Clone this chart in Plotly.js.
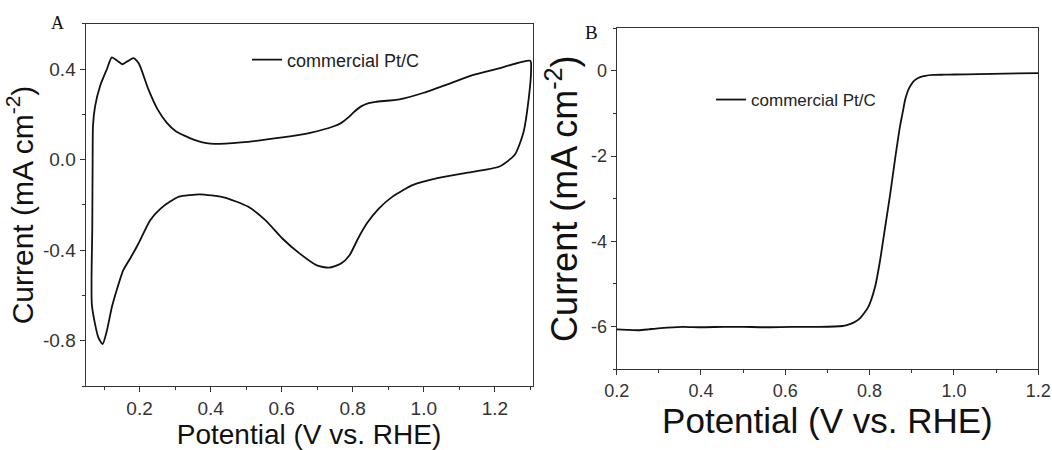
<!DOCTYPE html>
<html><head><meta charset="utf-8">
<script src="https://cdn.plot.ly/plotly-3.0.1.min.js"></script>
<style>html,body{margin:0;padding:0;background:#fff}</style>
</head><body><div id="chart" style="width:1052px;height:450px"></div>
<script>
// Panel A: cyclic voltammogram (closed loop)
const cvPotential = [0.066,0.067,0.068,0.069,0.075,0.089,0.108,0.122,0.137,0.152,0.167,0.183,0.198,0.225,0.25,0.277,0.302,0.352,0.399,0.486,0.602,0.68,0.747,0.768,0.786,0.805,0.825,0.845,0.864,0.932,1.0,1.067,1.135,1.203,1.30,
  1.302,1.295,1.28,1.256,1.213,1.116,1.038,0.97,0.912,0.874,0.84,0.815,0.791,0.767,0.733,0.699,0.651,0.602,0.554,0.505,0.437,0.37,0.342,0.311,0.286,0.26,0.23,0.197,0.176,0.154,0.135,0.122,0.108,0.096,0.084,0.066];
const cvCurrent = [-0.644,-0.3,0.0,0.15,0.237,0.326,0.40,0.452,0.438,0.422,0.436,0.449,0.425,0.311,0.225,0.163,0.126,0.089,0.071,0.077,0.099,0.119,0.148,0.163,0.185,0.213,0.237,0.25,0.256,0.267,0.296,0.333,0.373,0.40,0.437,
  0.40,0.267,0.118,0.022,-0.03,-0.059,-0.081,-0.111,-0.163,-0.215,-0.281,-0.348,-0.422,-0.459,-0.477,-0.467,-0.415,-0.348,-0.267,-0.207,-0.166,-0.153,-0.156,-0.163,-0.185,-0.215,-0.267,-0.37,-0.43,-0.489,-0.58,-0.652,-0.756,-0.815,-0.785,-0.644];

// Panel B: linear sweep voltammogram
const lsvPotential = [0.2,0.225,0.252,0.275,0.293,0.32,0.357,0.4,0.454,0.5,0.55,0.615,0.68,0.736,0.746,0.762,0.777,0.797,0.813,0.825,0.837,0.849,0.86,0.872,0.879,0.884,0.889,0.894,0.9,0.906,0.913,0.92,0.932,0.951,0.977,1.0,1.058,1.12,1.2];
const lsvCurrent = [-6.07,-6.08,-6.09,-6.07,-6.05,-6.03,-6.01,-6.02,-6.01,-6.01,-6.02,-6.01,-6.01,-5.99,-5.97,-5.91,-5.81,-5.54,-5.07,-4.44,-3.66,-2.88,-2.10,-1.31,-0.95,-0.69,-0.52,-0.40,-0.30,-0.23,-0.18,-0.145,-0.115,-0.095,-0.09,-0.085,-0.075,-0.065,-0.05];

const seriesName = 'commercial Pt/C';
const panelLabels = ['A','B'];
const xTitle = 'Potential (V vs. RHE)';
const yTitle = 'Current (mA cm<sup>-2</sup>)';
const cvXTickVals = [0.2,0.4,0.6,0.8,1.0,1.2];
const cvXTickText = ['0.2','0.4','0.6','0.8','1.0','1.2'];
const cvYTickVals = [-0.8,-0.4,0.0,0.4];
const cvYTickText = ['-0.8','-0.4','0.0','0.4'];
const lsvXTickVals = [0.2,0.4,0.6,0.8,1.0,1.2];
const lsvXTickText = ['0.2','0.4','0.6','0.8','1.0','1.2'];
const lsvYTickVals = [-6,-4,-2,0];
const lsvYTickText = ['-6','-4','-2','0'];

const FONT = 'Arial, "Liberation Sans", sans-serif';
const SERIF = '"Times New Roman", "Liberation Serif", serif';
const LINE = '#333';

const traces = [
  {x: cvPotential, y: cvCurrent, xaxis:'x', yaxis:'y', mode:'lines', name: seriesName, showlegend:true,
   line:{color:'#111', width:1.8, shape:'spline', smoothing:0.6}, legend:'legend'},
  {x: lsvPotential, y: lsvCurrent, xaxis:'x2', yaxis:'y2', mode:'lines', name: seriesName, showlegend:true,
   line:{color:'#111', width:1.8, shape:'spline', smoothing:0.6}, legend:'legend2'}
];

function ax(extra){
  return Object.assign({
    showline:true, mirror:true, linecolor:LINE, linewidth:1,
    ticks:'outside', ticklen:5, tickcolor:LINE, tickwidth:1,
    showgrid:false, zeroline:false, tickmode:'array',
    tickfont:{family:FONT, size:19, color:'#333'}
  }, extra);
}

const layout = {
  width:1052, height:450, margin:{l:0,r:0,t:0,b:0}, showlegend:true,
  paper_bgcolor:'#fff', plot_bgcolor:'#fff', font:{family:FONT, color:'#111'},
  xaxis: ax({domain:[0.0813,0.5062], range:[0.048,1.306], anchor:'y',
    tickvals:cvXTickVals, ticktext:cvXTickText,
    minor:{tickmode:'linear', tick0:0, dtick:0.1, ticks:'outside', ticklen:3, tickcolor:LINE},
    title:{text:xTitle, font:{family:FONT, size:28, color:'#111'}, standoff:0}}),
  yaxis: ax({domain:[0.1422,0.9467], range:[-1.0,0.6], anchor:'x',
    tickvals:cvYTickVals, ticktext:cvYTickText,
    minor:{tickmode:'linear', tick0:0, dtick:0.2, ticks:'outside', ticklen:3, tickcolor:LINE},
    title:{text:yTitle, font:{family:FONT, size:30, color:'#111'}, standoff:0}}),
  xaxis2: ax({domain:[0.5862,0.9869], range:[0.2,1.2], anchor:'y2',
    tickvals:lsvXTickVals, ticktext:lsvXTickText, tickfont:{family:FONT, size:18, color:'#333'},
    minor:{tickmode:'linear', tick0:0, dtick:0.1, ticks:'outside', ticklen:3, tickcolor:LINE},
    title:{text:xTitle, font:{family:FONT, size:35, color:'#111'}, standoff:6}}),
  yaxis2: ax({domain:[0.18,0.9371], range:[-7,1], anchor:'x2',
    tickvals:lsvYTickVals, ticktext:lsvYTickText, tickfont:{family:FONT, size:18, color:'#333'},
    minor:{tickmode:'linear', tick0:0, dtick:1, ticks:'outside', ticklen:3, tickcolor:LINE},
    title:{text:yTitle, font:{family:FONT, size:36, color:'#111'}, standoff:2}}),
  legend: {x:0.2348, y:0.8667, xanchor:'left', yanchor:'middle', bgcolor:'rgba(0,0,0,0)',
    font:{family:FONT, size:18, color:'#222'}},
  legend2: {x:0.6759, y:0.7778, xanchor:'left', yanchor:'middle', bgcolor:'rgba(0,0,0,0)',
    font:{family:FONT, size:17, color:'#222'}},
  annotations: [
    {text:panelLabels[0], xref:'paper', yref:'paper', x:57/1052, y:0.949, xanchor:'center', yanchor:'middle',
     showarrow:false, font:{family:SERIF, size:18, color:'#111'}},
    {text:panelLabels[1], xref:'paper', yref:'paper', x:591/1052, y:0.928, xanchor:'center', yanchor:'middle',
     showarrow:false, font:{family:SERIF, size:19, color:'#111'}}
  ]
};

Plotly.newPlot('chart', traces, layout, {displayModeBar:false, staticPlot:true});
</script></body></html>
